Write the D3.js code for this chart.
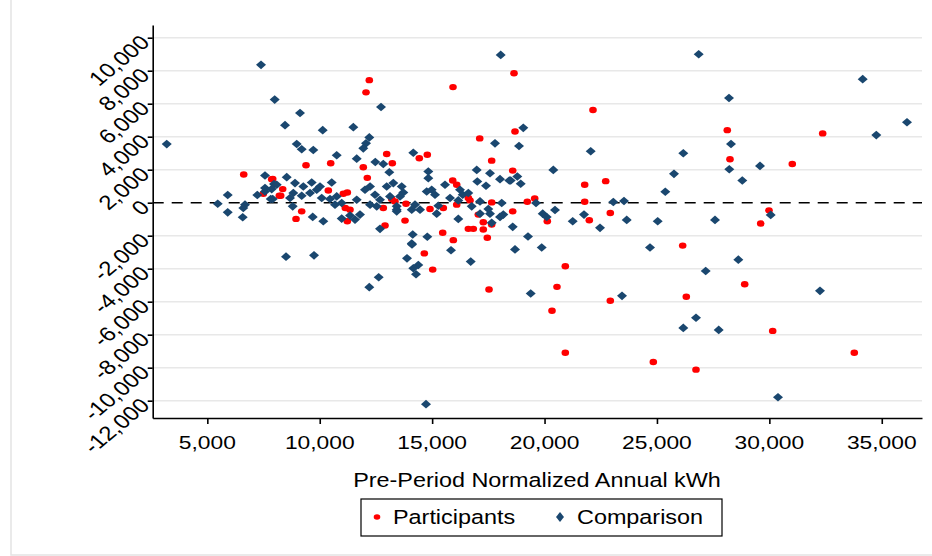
<!DOCTYPE html>
<html>
<head>
<meta charset="utf-8">
<script src="https://cdn.jsdelivr.net/npm/d3@7"></script>
<style>
  body { margin: 0; background: #fff; }
  text { font-family: "Liberation Sans", Arial, sans-serif; fill: #000; }
</style>
</head>
<body>
<script>
'use strict';

// participants (red dots): pre-period kWh and change in kWh
const partX = [12205, 12059, 15928, 18642, 17116, 18686, 22155, 28129, 32372, 28249,
  31020, 29984, 29615, 18584, 21786, 22720, 19233, 19562, 21786, 18584,
  20123, 21991, 22925, 26145, 20924, 20554, 22925, 26306, 28903, 20332,
  30149, 20924, 33778, 24838, 26737, 14652, 15025, 17530, 6619, 7909,
  7491, 8202, 12979, 9390, 10488, 11938, 13228, 12116, 7864, 8353,
  8264, 10382, 11049, 11227, 9198, 8945, 11227, 11347, 12828, 13202,
  12904, 11138, 14429, 14785, 17649, 13348, 13838, 14905, 15497, 15915,
  16093, 16610, 16093, 16685, 17649, 17053, 17276, 17649, 16610, 16832,
  17276, 17454, 13794, 15470, 15942];
const partY = [7428, 6687, 7006, 7849, 3898, 4319, 5620, 4398, 4199, 2632,
  2349, -464, -1265, 1946, 1084, 1307, 60, 259, 60, -524,
  -1124, -1066, -622, -2600, -3855, -5102, -5946, -5705, -4940, -6548,
  -7771, -9096, -9096, -9656, -10120, -3072, -4054, -5259, 1705, 1446,
  542, 422, 2952, 2271, 2392, 2151, 2392, 1506, 1428, 825,
  422, 741, 542, 620, -524, -982, -1124, -422, -320, 223,
  -1385, -320, 2693, 2910, 2548, 78, -60, -380, -320, 1343,
  1084, 283, -120, 139, 18, -723, -1187, -1325, -1584, -1584,
  -1626, -2126, -1084, -1825, -2271];

// comparison group (navy diamonds)
const compX = [7388, 7997, 9123, 8456, 10132, 3194, 8976, 18050, 12726, 11494,
  12205, 12059, 19055, 17796, 18864, 26857, 34152, 28205, 36122, 34757,
  28294, 28218, 29584, 28796, 27582, 30060, 22053, 26172, 20390, 18788,
  18940, 18495, 25758, 25371, 19620, 23059, 23534, 19918, 20096, 20465,
  21253, 21755, 23655, 22467, 25033, 18584, 19264, 19874, 24691, 28620,
  27168, 19384, 23446, 32252, 26737, 26172, 27747, 30384, 8500, 9746,
  14105, 15839, 18686, 13882, 16716, 14385, 14162, 14283, 12623, 12205,
  14727, 7566, 7966, 7566, 7566, 7224, 7820, 5462, 5907, 5907,
  6574, 6676, 6600, 9198, 9714, 11938, 10755, 11645, 12472, 12828,
  13095, 8531, 8900, 8087, 7864, 9270, 9643, 10012, 10533, 8825,
  8678, 7909, 9198, 9568, 9866, 10088, 10457, 10755, 10977, 10680,
  8798, 9688, 10159, 10977, 11347, 11569, 11790, 11645, 12014, 12238,
  12459, 12238, 12535, 12681, 12979, 13126, 13424, 12681, 14162, 14830,
  14830, 16983, 17574, 18019, 18433, 17009, 17396, 13273, 13646, 13718,
  13571, 13424, 13424, 14238, 14460, 14092, 14758, 14980, 15128, 15572,
  15274, 15203, 15795, 16240, 16360, 16610, 16164, 16760, 17129, 18095,
  17129, 17498, 17574, 18019, 18166, 16164, 17649, 14136, 14092, 14785];
const compY = [8355, 6247, 5440, 4699, 4398, 3550, 3554, 8958, 5801, 4578,
  3958, 3596, 4536, 3596, 3440, 8994, 7488, 6343, 4879, 4096,
  3560, 2030, 2229, 1343, -1042, -741, 3114, 2994, 1988, 1584,
  1145, 1343, 1747, 663, -20, 42, 102, -663, -863, -442,
  -1124, -723, -1042, -1524, -1124, -1464, -2048, -2720, -2720, -3452,
  -4138, -5500, -5645, -5343, -6970, -7590, -7711, -11789, -3271, -3193,
  -2530, -2880, -2831, -3373, -3572, -3777, -3976, -4337, -4518, -5120,
  -12211, 1645, 1126, 886, 681, 464, 223, -60, 464, -584,
  -886, -120, -320, 3235, 3193, 3295, 2873, 2669, 2470, 2349,
  1849, 1548, 1187, 1084, 825, 982, 1223, 982, 1223, 584,
  283, 223, 422, 584, 783, 283, 223, 380, -20, -120,
  -223, -861, -1124, -964, -783, -1024, -723, 181, 783, 982,
  482, -120, -223, 181, 982, 380, -422, -1584, 3030, 1886,
  1488, 1988, 1789, 1428, 1343, 1283, 1024, 1187, 982, 620,
  380, -223, -524, -120, -422, -422, 681, 783, 482, 1084,
  -181, -663, 283, 783, 482, 584, 139, -223, 78, -20,
  -663, -380, -663, -861, -723, -982, -1223, -1928, -2470, -2066];

const xTicks = [5000, 10000, 15000, 20000, 25000, 30000, 35000];
const yTicks = [-12000, -10000, -8000, -6000, -4000, -2000, 0, 2000, 4000, 6000, 8000, 10000];

const W = 932, H = 556;
const SX = 1.2; // the original picture is a little wider than tall

const svg = d3.select('body').append('svg')
  .attr('width', W)
  .attr('height', H);

svg.append('rect').attr('width', W).attr('height', H).attr('fill', '#fff');

// faint outer frame of the graph region
svg.append('path')
  .attr('d', 'M11,0 V555 H932')
  .attr('fill', 'none')
  .attr('stroke', '#e4e4e4')
  .attr('stroke-width', 1.5);

const x = d3.scaleLinear().domain([2570, 36790]).range([152.7, 922]);
const y = d3.scaleLinear().domain([-13050, 10770]).range([418, 25]);

// text helper, stretched horizontally like the source
function label(str, px, py, size, anchor, rot) {
  let t = `translate(${px},${py}) scale(${SX},1)`;
  if (rot) t += ` rotate(${rot})`;
  return svg.append('text')
    .attr('transform', t)
    .attr('text-anchor', anchor)
    .style('font-size', size + 'px')
    .text(str);
}

// gridlines
svg.append('g').selectAll('line')
  .data(yTicks.filter(d => d !== 0))
  .enter().append('line')
  .attr('x1', x.range()[0]).attr('x2', x.range()[1])
  .attr('y1', d => y(d)).attr('y2', d => y(d))
  .attr('stroke', '#e8e8e8')
  .attr('stroke-width', 1.5);

// zero reference line
svg.append('line')
  .attr('x1', x.range()[0]).attr('x2', x.range()[1])
  .attr('y1', y(0)).attr('y2', y(0))
  .attr('stroke', '#000')
  .attr('stroke-width', 1.5)
  .attr('stroke-dasharray', '11,8');

// points: participants first, comparison on top
const fmt = v => d3.format(',')(v).replace('\u2212', '-');
svg.append('g').selectAll('ellipse')
  .data(d3.range(partX.length))
  .enter().append('ellipse')
  .attr('cx', i => x(partX[i]))
  .attr('cy', i => y(partY[i]))
  .attr('rx', 3.8)
  .attr('ry', 3.2)
  .attr('fill', '#ff0000');

const diamond = 'M0,-4.3 L5,0 L0,4.3 L-5,0 Z';
svg.append('g').selectAll('path')
  .data(d3.range(compX.length))
  .enter().append('path')
  .attr('d', diamond)
  .attr('transform', i => `translate(${x(compX[i])},${y(compY[i])})`)
  .attr('fill', '#1a476f');

// axes
const yAxis = d3.axisLeft(y).tickValues(yTicks).tickSize(5).tickSizeOuter(0).tickFormat('');
svg.append('g')
  .attr('transform', `translate(${x.range()[0]},0)`)
  .call(yAxis)
  .call(g => g.selectAll('path,line').attr('stroke', '#000').attr('stroke-width', 1.6));

const xAxis = d3.axisBottom(x).tickValues(xTicks).tickSize(6).tickSizeOuter(0).tickFormat('');
svg.append('g')
  .attr('transform', `translate(0,${y.range()[0]})`)
  .call(xAxis)
  .call(g => g.selectAll('path,line').attr('stroke', '#000').attr('stroke-width', 1.6));

// tick labels
xTicks.forEach(v => label(fmt(v), x(v), 449, 19, 'middle'));
yTicks.forEach(v => label(fmt(v), 145, y(v) + 1, 20, 'end', -45).attr('dy', '0.35em'));

// axis title
label('Pre-Period Normalized Annual kWh', 537, 487, 19.5, 'middle');

// legend
svg.append('rect')
  .attr('x', 361).attr('y', 499)
  .attr('width', 361).attr('height', 37)
  .attr('fill', '#fff')
  .attr('stroke', '#000')
  .attr('stroke-width', 1.2);
svg.append('ellipse')
  .attr('cx', 377).attr('cy', 517)
  .attr('rx', 3.3).attr('ry', 2.8)
  .attr('fill', '#ff0000');
label('Participants', 393, 524, 19.5, 'start');
svg.append('path')
  .attr('d', 'M0,-5 L4,0 L0,5 L-4,0 Z')
  .attr('transform', 'translate(560,517)')
  .attr('fill', '#1a476f');
label('Comparison', 577, 524, 19.5, 'start');
</script>
</body>
</html>
